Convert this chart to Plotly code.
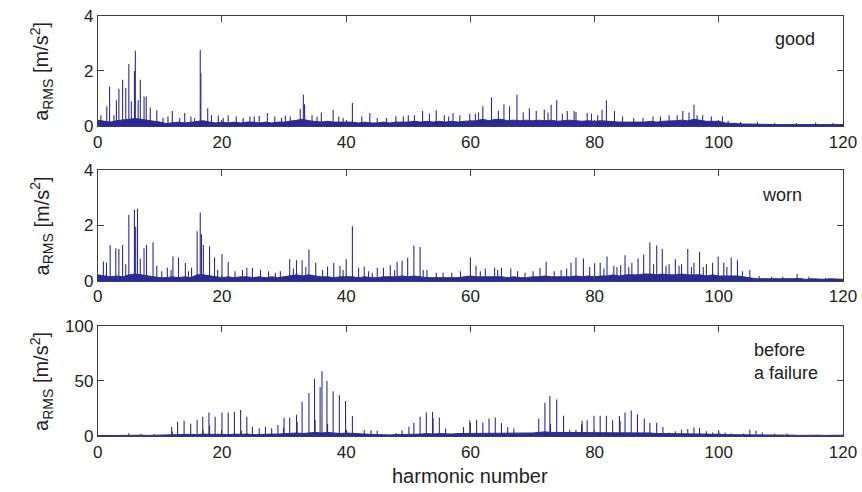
import plotly.graph_objects as go

# ---------------- data ----------------
harm_axis = list(range(0, 121))
x_ticks = [0, 20, 40, 60, 80, 100, 120]

# panel 1: "good" (main peaks)
good_h = [0.5, 1.45, 1.9, 2.6, 3.0, 3.4, 4.0, 4.5, 5.0, 5.4, 5.9, 6.05, 6.5, 6.85, 7.45, 7.8, 8.45, 9.5,
          12.0, 14.0, 16.5, 16.6, 17.7, 19.4, 21.0, 24.5, 26.0, 27.3, 31.0, 32.6, 33.1, 33.3, 36.0, 37.9,
          41.0, 43.8, 48.0, 50.0, 52.3, 54.5, 57.2, 59.9, 62.0, 63.4, 65.4, 66.3, 67.5, 69.5, 71.9, 73.0,
          73.9, 75.6, 76.7, 77.0, 78.8, 81.2, 81.9, 83.2, 89.4, 92.0, 94.2, 96.0, 96.5, 100.6]
good_a = [0.4, 0.72, 1.44, 0.4, 0.94, 1.36, 1.68, 1.39, 2.25, 0.9, 2.0, 2.73, 0.94, 1.68, 1.08, 1.08, 0.68, 0.58,
          0.55, 0.48, 2.76, 1.92, 0.65, 0.4, 0.4, 0.35, 0.38, 0.48, 0.35, 0.63, 1.14, 0.8, 0.5, 0.6,
          0.84, 0.48, 0.36, 0.4, 0.55, 0.58, 0.47, 0.45, 0.72, 1.05, 0.8, 0.72, 1.14, 0.65, 0.6, 0.78,
          0.94, 0.55, 0.55, 0.52, 0.48, 0.6, 0.94, 0.55, 0.35, 0.4, 0.55, 0.78, 0.4, 0.35]
# panel 1: small noise spikes
good_noise_h = [10.5, 11.3, 13.2, 15.0, 15.6, 18.3, 20.2, 22.3, 23.4, 25.2, 28.5, 29.6, 30.2, 34.5, 35.3,
                38.8, 39.5, 42.5, 45.0, 46.5, 49.2, 51.0, 53.4, 55.8, 56.5, 58.3, 60.8, 61.3, 64.5, 68.5,
                70.6, 72.5, 74.8, 79.5, 80.5, 84.5, 86.3, 87.8, 90.6, 93.3, 95.2, 97.4, 98.8, 101.5,
                103.5, 106.2, 109.0, 112.5, 115.6, 118.4]
good_noise_a = [0.3, 0.35, 0.3, 0.35, 0.3, 0.4, 0.3, 0.35, 0.3, 0.35, 0.35, 0.3, 0.38, 0.4, 0.35,
                0.35, 0.3, 0.35, 0.3, 0.3, 0.35, 0.4, 0.45, 0.4, 0.35, 0.4, 0.45, 0.5, 0.55, 0.5,
                0.55, 0.5, 0.45, 0.45, 0.4, 0.35, 0.3, 0.3, 0.35, 0.4, 0.5, 0.4, 0.35, 0.2,
                0.15, 0.15, 0.12, 0.12, 0.14, 0.12]
good_floor = [0.22, 0.18, 0.15, 0.2, 0.22, 0.25, 0.28, 0.25, 0.22, 0.18, 0.15,
              0.1, 0.12, 0.15, 0.12, 0.15, 0.18, 0.2, 0.15, 0.12, 0.15,
              0.12, 0.15, 0.12, 0.15, 0.15, 0.12, 0.15, 0.12, 0.15, 0.15,
              0.18, 0.2, 0.25, 0.2, 0.18, 0.15, 0.18, 0.15, 0.15, 0.15,
              0.15, 0.12, 0.15, 0.12, 0.12, 0.15, 0.12, 0.15, 0.15, 0.15,
              0.18, 0.15, 0.18, 0.15, 0.18, 0.15, 0.18, 0.15, 0.18, 0.2,
              0.2, 0.25, 0.2, 0.25, 0.25, 0.2, 0.22, 0.2, 0.22, 0.2,
              0.22, 0.2, 0.22, 0.18, 0.2, 0.22, 0.2, 0.18, 0.2, 0.18,
              0.2, 0.18, 0.18, 0.15, 0.15, 0.15, 0.15, 0.15, 0.18, 0.15,
              0.18, 0.18, 0.2, 0.22, 0.2, 0.25, 0.22, 0.18, 0.18, 0.18,
              0.12, 0.1, 0.08, 0.08, 0.08, 0.07, 0.06, 0.06, 0.06, 0.06,
              0.06, 0.06, 0.07, 0.06, 0.06, 0.07, 0.06, 0.06, 0.07, 0.06]

# panel 2: "worn"
worn_h = [0.9, 1.4, 2.0, 2.9, 3.4, 4.0, 4.5, 5.0, 5.9, 6.1, 6.4, 6.85, 7.45, 7.85, 8.9, 9.5, 11.2, 12.1,
          13.0, 14.1, 15.1, 16.0, 16.5, 16.7, 17.0, 18.0, 18.8, 20.0, 21.0, 24.0, 24.9, 30.9, 32.0, 32.9,
          34.0, 35.1, 37.0, 38.0, 39.0, 40.0, 41.0, 42.0, 42.9, 45.0, 46.0, 47.1, 48.2, 49.0, 49.9, 50.9,
          51.9, 53.0, 60.0, 60.9, 62.4, 63.9, 65.0, 66.5, 71.2, 72.2, 76.2, 77.0, 78.2, 80.0, 80.9, 82.0,
          83.1, 84.2, 84.9, 86.0, 87.0, 87.9, 88.9, 90.0, 90.9, 92.0, 93.0, 94.0, 95.0, 96.0, 96.9, 98.0,
          99.0, 99.9, 100.8, 102.0, 103.0, 105.0, 112.6]
worn_a = [0.7, 0.66, 1.29, 1.18, 1.15, 1.3, 0.6, 2.39, 2.57, 1.95, 2.6, 0.8, 1.18, 1.3, 1.4, 0.55, 0.48, 0.88,
          0.85, 0.65, 0.48, 1.79, 2.47, 1.68, 1.3, 1.25, 0.85, 0.97, 0.68, 0.48, 0.48, 0.78, 0.75, 0.75,
          1.13, 0.66, 0.52, 0.66, 0.55, 0.78, 1.97, 0.48, 0.52, 0.48, 0.48, 0.57, 0.69, 0.73, 0.84, 1.28,
          1.22, 0.4, 0.85, 0.55, 0.45, 0.48, 0.48, 0.45, 0.48, 0.69, 0.66, 0.85, 0.81, 0.64, 0.66, 0.88,
          0.55, 0.57, 0.93, 0.66, 0.81, 0.95, 1.4, 1.28, 1.15, 0.6, 0.78, 0.6, 1.15, 0.66, 1.05, 0.6,
          0.66, 0.88, 0.66, 0.85, 0.75, 0.4, 0.25]
worn_noise_h = [10.3, 11.8, 14.6, 19.3, 22.1, 23.3, 26.2, 27.5, 28.6, 29.4, 31.5, 33.5, 36.2, 39.5, 43.6,
                44.2, 47.8, 52.4, 54.5, 55.6, 57.0, 58.4, 61.6, 64.4, 67.6, 68.8, 70.1, 73.5, 74.6, 75.5,
                79.2, 81.5, 83.6, 85.5, 89.5, 91.5, 93.6, 95.6, 97.5, 101.3, 103.8, 106.5, 108.5, 110.3,
                114.5, 117.2]
worn_noise_a = [0.35, 0.4, 0.35, 0.4, 0.35, 0.4, 0.4, 0.35, 0.3, 0.35, 0.45, 0.5, 0.4, 0.4, 0.35,
                0.3, 0.4, 0.4, 0.3, 0.3, 0.3, 0.35, 0.35, 0.4, 0.35, 0.3, 0.35, 0.35, 0.4, 0.45,
                0.5, 0.45, 0.5, 0.5, 0.6, 0.55, 0.55, 0.5, 0.5, 0.5, 0.35, 0.18, 0.15, 0.15,
                0.15, 0.12]
worn_floor = [0.22, 0.18, 0.15, 0.18, 0.15, 0.22, 0.25, 0.22, 0.18, 0.15, 0.12,
              0.12, 0.15, 0.12, 0.15, 0.12, 0.22, 0.22, 0.18, 0.15, 0.12,
              0.15, 0.12, 0.15, 0.15, 0.12, 0.15, 0.12, 0.15, 0.12, 0.15,
              0.18, 0.22, 0.18, 0.22, 0.18, 0.15, 0.15, 0.12, 0.15, 0.15,
              0.15, 0.12, 0.15, 0.12, 0.12, 0.15, 0.15, 0.15, 0.18, 0.15,
              0.18, 0.15, 0.12, 0.12, 0.12, 0.12, 0.12, 0.12, 0.15, 0.18,
              0.15, 0.15, 0.15, 0.15, 0.15, 0.12, 0.15, 0.12, 0.12, 0.15,
              0.15, 0.18, 0.15, 0.15, 0.15, 0.15, 0.18, 0.15, 0.18, 0.15,
              0.18, 0.18, 0.22, 0.18, 0.22, 0.22, 0.22, 0.25, 0.25, 0.22,
              0.25, 0.22, 0.22, 0.25, 0.22, 0.22, 0.22, 0.18, 0.22, 0.18,
              0.18, 0.18, 0.18, 0.15, 0.12, 0.08, 0.08, 0.08, 0.06, 0.08,
              0.06, 0.08, 0.09, 0.06, 0.08, 0.06, 0.06, 0.08, 0.06, 0.06]

# panel 3: "before a failure"
fail_h = [5.0, 7.0, 9.1, 11.9, 12.0, 12.85, 13.9, 14.96, 16.0, 16.9, 16.95, 17.9, 18.0, 18.9, 20.0, 21.0, 22.0,
          23.0, 23.1, 24.0, 24.9, 26.0, 27.0, 28.0, 29.0, 29.9, 30.0, 30.9, 32.0, 32.1, 32.9, 34.0, 34.9,
          35.0, 35.8, 36.1, 36.9, 37.0, 37.9, 38.9, 39.9, 41.0, 42.9, 44.0, 45.0, 48.0, 49.0, 50.1, 50.9,
          51.9, 52.9, 53.9, 54.0, 55.0, 56.0, 58.9, 59.9, 60.0, 61.0, 62.0, 63.0, 64.0, 65.0, 66.0, 67.0,
          71.0, 72.0, 72.8, 72.9, 73.9, 75.0, 76.0, 77.0, 77.9, 78.0, 78.8, 79.9, 80.9, 81.9, 82.9, 84.0,
          84.1, 84.9, 85.9, 86.9, 88.0, 88.9, 90.0, 91.0, 92.0, 93.0, 94.0, 95.0, 96.0, 96.9, 98.0, 99.0,
          100.0, 101.0, 102.0, 104.0, 105.0, 106.0, 107.0, 109.0, 111.0]
fail_a = [2.7, 2.0, 2.0, 8.7, 4.3, 13.2, 14.0, 11.4, 14.7, 17.7, 6.0, 21.6, 9.5, 17.7, 21.6, 21.6, 22.2,
          23.7, 5.0, 17.7, 8.7, 7.2, 8.7, 7.2, 10.2, 8.0, 16.8, 16.8, 19.4, 13.0, 31.1, 39.2, 52.1,
          14.7, 44.6, 58.7, 50.0, 11.0, 40.7, 37.1, 32.0, 18.3, 5.6, 5.5, 5.0, 3.0, 5.5, 8.7, 12.3,
          17.7, 21.6, 22.0, 16.0, 17.0, 7.0, 8.4, 14.6, 12.0, 15.0, 12.5, 16.0, 17.0, 12.0, 8.5, 7.0,
          16.0, 30.3, 36.5, 11.0, 33.2, 18.6, 6.0, 6.0, 10.8, 14.0, 14.6, 18.6, 18.6, 18.6, 14.6, 18.3,
          14.0, 21.6, 23.4, 19.7, 16.0, 12.3, 12.3, 8.4, 3.5, 4.5, 6.0, 6.6, 8.0, 7.5, 4.5, 3.5,
          4.5, 3.5, 2.5, 2.5, 6.0, 5.0, 3.5, 2.5, 2.5]
fail_noise_h = []
fail_noise_a = []
fail_floor = [0.8, 0.6, 0.8, 0.6, 0.8, 1.0, 0.8, 1.0, 0.8, 1.0, 1.0,
              1.2, 1.5, 1.2, 1.5, 1.8, 1.5, 2.0, 1.8, 2.0, 1.8,
              1.5, 2.0, 1.8, 2.0, 1.5, 1.8, 1.5, 2.0, 2.0, 2.5,
              2.5, 3.0, 2.5, 3.0, 3.5, 3.0, 3.5, 3.0, 2.5, 3.0,
              2.5, 2.0, 2.0, 1.8, 1.5, 1.5, 1.2, 1.5, 1.5, 1.8,
              2.0, 2.0, 2.5, 2.0, 2.5, 2.0, 2.0, 2.5, 2.5, 3.0,
              3.0, 3.0, 2.5, 3.0, 3.0, 2.5, 3.0, 2.5, 3.0, 3.0,
              3.5, 4.0, 3.5, 3.5, 3.0, 3.0, 3.0, 3.0, 3.5, 3.0,
              3.0, 3.5, 3.0, 3.5, 3.0, 3.5, 3.0, 3.0, 3.0, 2.5,
              2.5, 2.0, 2.5, 2.0, 2.5, 2.0, 2.0, 2.0, 1.8, 2.0,
              1.5, 1.5, 1.5, 1.2, 1.5, 1.5, 1.2, 1.0, 1.2, 1.0,
              1.0, 1.0, 0.8, 1.0, 0.8, 1.0, 0.8, 1.0, 0.8, 1.0]

panels = [
    ("good", good_h, good_a, good_noise_h, good_noise_a, good_floor, [0, 4], [0, 2, 4]),
    ("worn", worn_h, worn_a, worn_noise_h, worn_noise_a, worn_floor, [0, 4], [0, 2, 4]),
    ("before<br>a failure", fail_h, fail_a, fail_noise_h, fail_noise_a, fail_floor, [0, 100], [0, 50, 100]),
]

# ---------------- style / layout ----------------
BLUE = "#2b2b98"
AXC = "#404040"
FONT = "Liberation Sans, Arial, sans-serif"
TXT = "#222222"

# calibrated pixel -> paper mapping
XOFF, XW = 3.0, 845.0
YOFF, YH = 8.0, 476.0
def fx(px):
    return (px - XOFF) / XW
def fy(py):
    return 1 - (py - YOFF) / YH

x_dom = [fx(96), fx(843)]
y_doms = [[fy(126), fy(14.7)], [fy(281.7), fy(170)], [fy(438), fy(326.7)]]

fig = go.Figure()
for i, (label, hh, aa, nh, na, floor, yr, yt) in enumerate(panels):
    xa = "x" if i == 0 else f"x{i+1}"
    ya = "y" if i == 0 else f"y{i+1}"
    fig.add_trace(go.Scatter(x=harm_axis, y=floor, mode="lines", fill="tozeroy",
                             fillcolor=BLUE, line=dict(color=BLUE, width=1),
                             xaxis=xa, yaxis=ya, hoverinfo="skip"))
    sx, sy = [], []
    for h, a in zip(list(nh) + list(hh), list(na) + list(aa)):
        sx += [h, h, None]
        sy += [0, a, None]
    fig.add_trace(go.Scatter(x=sx, y=sy, mode="lines", line=dict(color=BLUE, width=1.1),
                             xaxis=xa, yaxis=ya, hoverinfo="skip"))

layout = dict(width=862, height=492, margin=dict(l=0, r=0, t=0, b=0),
              paper_bgcolor="white", plot_bgcolor="white", showlegend=False,
              font=dict(family=FONT, size=17, color=TXT))
axis_common = dict(showline=True, linecolor=AXC, linewidth=1, mirror="ticks",
                   ticks="inside", ticklen=6, tickcolor=AXC, showgrid=False, zeroline=False,
                   ticklabeloverflow="allow",
                   tickfont=dict(family=FONT, size=17, color=TXT))
for i, p in enumerate(panels):
    yr, yt = p[6], p[7]
    sfx = "" if i == 0 else str(i + 1)
    layout["xaxis" + sfx] = dict(domain=x_dom, range=[0, 120], tickvals=x_ticks,
                                 anchor="y" + sfx, **axis_common)
    layout["yaxis" + sfx] = dict(domain=y_doms[i], range=yr, tickvals=yt,
                                 anchor="x" + sfx, **axis_common)
fig.update_layout(**layout)

ann = []
ylab = "a<sub>RMS</sub> [m/s<sup>2</sup>]"
for d in y_doms:
    ann.append(dict(x=fx(40), y=(d[0] + d[1]) / 2, xref="paper", yref="paper",
                    text=ylab, textangle=-90, showarrow=False, xanchor="center", yanchor="middle",
                    font=dict(family=FONT, size=20, color=TXT)))
ann.append(dict(x=fx(795), y=fy(38), xref="paper", yref="paper", text="good",
                showarrow=False, xanchor="center", yanchor="middle",
                font=dict(family=FONT, size=18, color=TXT)))
ann.append(dict(x=fx(782), y=fy(195), xref="paper", yref="paper", text="worn",
                showarrow=False, xanchor="center", yanchor="middle",
                font=dict(family=FONT, size=18, color=TXT)))
ann.append(dict(x=fx(752), y=fy(363), xref="paper", yref="paper", text="before<br>a failure",
                showarrow=False, xanchor="left", yanchor="middle", align="left",
                font=dict(family=FONT, size=18, color=TXT)))
ann.append(dict(x=fx(469), y=fy(478), xref="paper", yref="paper", text="harmonic number",
                showarrow=False, xanchor="center", yanchor="middle",
                font=dict(family=FONT, size=20, color=TXT)))
fig.update_layout(annotations=ann)

fig.write_html("out.html")
